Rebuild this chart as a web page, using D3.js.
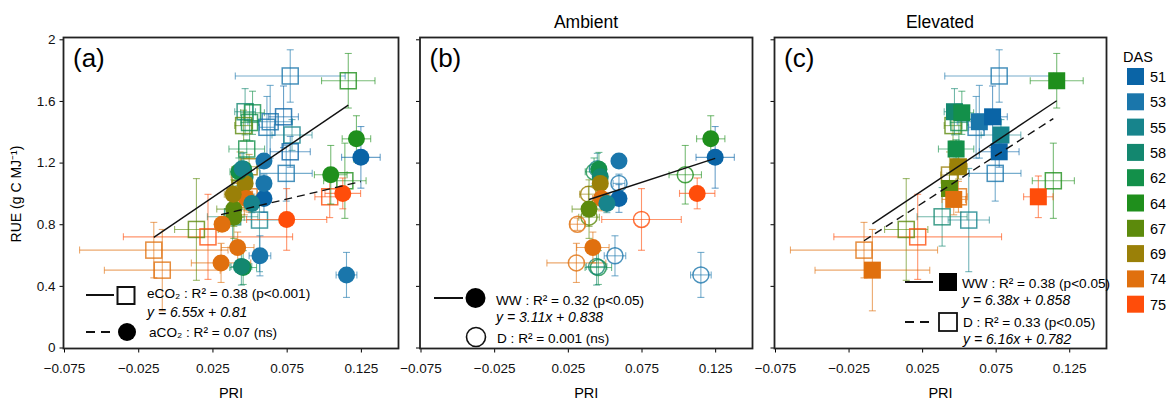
<!DOCTYPE html>
<html>
<head>
<meta charset="utf-8">
<script src="https://cdn.jsdelivr.net/npm/d3@7"></script>
<style>
  body { margin: 0; background: #fff; }
  svg { display: block; font-family: "Liberation Sans", Arial, sans-serif; }
</style>
</head>
<body>
<div id="chart"></div>
<script>
// DAS levels and colours
const dasLevels = [51, 53, 55, 58, 62, 64, 67, 69, 74, 75];
const dasColors = ["#0a64a6", "#1a76ab", "#17848c", "#13876f", "#13904a", "#1f8f1c", "#5c8a0c", "#9a8008", "#e0700e", "#ff4d0a"];

const xTicks = [-0.075, -0.025, 0.025, 0.075, 0.125];
const yTicks = [0, 0.4, 0.8, 1.2, 1.6, 2];

// [DAS, PRI, RUE, PRI error, RUE error]
const ambientWW = [
  [64, 0.122, 1.354, 0.0096, 0.15],
  [51, 0.125, 1.234, 0.013, 0.20],
  [75, 0.1128, 1.0, 0.012, 0.10],
  [53, 0.0597, 1.21, 0.003, 0.04],
  [62, 0.0461, 1.156, 0.004, 0.11],
  [58, 0.047, 1.108, 0.005, 0.08],
  [69, 0.047, 1.065, 0.005, 0.07],
  [51, 0.0597, 0.967, 0.003, 0.09],
  [74, 0.0478, 0.967, 0.006, 0.08],
  [55, 0.0515, 0.935, 0.004, 0.06],
  [67, 0.0394, 0.898, 0.0115, 0.19],
  [74, 0.042, 0.649, 0.011, 0.10]
];
const ambientD = [
  [64, 0.1047, 1.121, 0.011, 0.19],
  [75, 0.075, 0.831, 0.027, 0.20],
  [53, 0.1153, 0.471, 0.007, 0.146],
  [53, 0.0597, 1.065, 0.004, 0.06],
  [69, 0.039, 0.995, 0.006, 0.05],
  [67, 0.0394, 0.846, 0.007, 0.06],
  [74, 0.0315, 0.80, 0.005, 0.04],
  [74, 0.0308, 0.549, 0.02, 0.127],
  [62, 0.0457, 0.519, 0.009, 0.11],
  [58, 0.0445, 0.525, 0.007, 0.12],
  [53, 0.057, 0.595, 0.0073, 0.13],
  [62, 0.0428, 1.14, 0.006, 0.09],
  [55, 0.045, 1.16, 0.005, 0.10]
];
const elevatedWW = [
  [64, 0.1165, 1.731, 0.018, 0.177],
  [58, 0.047, 1.53, 0.007, 0.15],
  [62, 0.052, 1.523, 0.008, 0.14],
  [53, 0.0639, 1.465, 0.015, 0.236],
  [51, 0.0729, 1.497, 0.01, 0.20],
  [55, 0.0786, 1.379, 0.0135, 0.10],
  [51, 0.0774, 1.27, 0.0135, 0.10],
  [62, 0.0481, 1.288, 0.012, 0.06],
  [69, 0.0497, 1.173, 0.006, 0.08],
  [67, 0.0436, 1.032, 0.005, 0.10],
  [74, 0.0465, 0.961, 0.008, 0.10],
  [75, 0.104, 0.978, 0.01, 0.135],
  [74, -0.0088, 0.502, 0.039, 0.264]
];
const elevatedD = [
  [53, 0.0774, 1.762, 0.037, 0.17],
  [64, 0.1142, 1.082, 0.0143, 0.244],
  [53, 0.0617, 1.429, 0.005, 0.20],
  [67, 0.046, 1.44, 0.006, 0.10],
  [62, 0.050, 1.46, 0.006, 0.12],
  [53, 0.0747, 1.13, 0.0175, 0.18],
  [69, 0.0436, 1.119, 0.006, 0.15],
  [74, 0.0497, 0.978, 0.006, 0.10],
  [58, 0.0386, 0.848, 0.017, 0.19],
  [55, 0.0567, 0.827, 0.014, 0.335],
  [67, 0.0142, 0.766, 0.0147, 0.33],
  [75, 0.022, 0.718, 0.057, 0.276],
  [74, -0.0145, 0.632, 0.05, 0.18]
];

// fitted lines [slope, intercept]
const fitECO2 = [6.55, 0.81];
const fitACO2 = [2.28, 0.792];
const fitAmbWW = [3.11, 0.838];
const fitElevWW = [6.38, 0.858];
const fitElevD = [6.16, 0.782];

const svg = d3.select("#chart").append("svg")
  .attr("width", 1171)
  .attr("height", 403);

const color = d3.scaleOrdinal().domain(dasLevels).range(dasColors);
const frameTop = 37.5, frameBottom = 348.5;
const y = d3.scaleLinear().domain([0, 2]).range([347.5, 39.3]);

function makePanel(x0, x1, letter, showYLabels) {
  const x = d3.scaleLinear().domain([-0.075, 0.15]).range([x0, x1]);
  const g = svg.append("g");

  g.append("g")
    .attr("transform", `translate(0,${frameBottom})`)
    .call(d3.axisBottom(x).tickValues(xTicks).tickSize(4).tickPadding(11).tickFormat(d3.format(".3f")))
    .call(a => a.select(".domain").remove())
    .call(a => a.selectAll("text").attr("font-size", 13.5).attr("fill", "#111").attr("font-family", null));

  g.append("g")
    .attr("transform", `translate(${x0 - 0.5},0)`)
    .call(d3.axisLeft(y).tickValues(yTicks).tickSize(4).tickPadding(4)
      .tickFormat(d => showYLabels ? String(d) : ""))
    .call(a => a.select(".domain").remove())
    .call(a => a.selectAll("text").attr("font-size", 13.5).attr("fill", "#111").attr("font-family", null));

  g.append("rect")
    .attr("x", x0 - 0.5).attr("y", frameTop)
    .attr("width", x1 - x0 + 1).attr("height", frameBottom - frameTop)
    .attr("fill", "none").attr("stroke", "#222").attr("stroke-width", 1.8);

  g.append("text")
    .attr("x", x0 + 9).attr("y", 66.5)
    .attr("font-size", 26)
    .text(letter);

  g.append("text")
    .attr("x", (x0 + x1) / 2).attr("y", 398)
    .attr("text-anchor", "middle")
    .attr("font-size", 14.5)
    .text("PRI");

  return { g, x };
}

function errorBars(p, data) {
  const cap = 3.5;
  const eb = p.g.append("g")
    .attr("stroke-width", 1.1)
    .attr("stroke-opacity", 0.6)
    .selectAll("g").data(data).join("g")
    .attr("stroke", d => color(d[0]));
  eb.append("line")
    .attr("x1", d => p.x(d[1] - d[3])).attr("x2", d => p.x(d[1] + d[3]))
    .attr("y1", d => y(d[2])).attr("y2", d => y(d[2]));
  eb.append("line")
    .attr("x1", d => p.x(d[1])).attr("x2", d => p.x(d[1]))
    .attr("y1", d => y(d[2] - d[4])).attr("y2", d => y(d[2] + d[4]));
  [-1, 1].forEach(s => {
    eb.append("line")
      .attr("x1", d => p.x(d[1] + s * d[3])).attr("x2", d => p.x(d[1] + s * d[3]))
      .attr("y1", d => y(d[2]) - cap).attr("y2", d => y(d[2]) + cap);
    eb.append("line")
      .attr("x1", d => p.x(d[1]) - cap).attr("x2", d => p.x(d[1]) + cap)
      .attr("y1", d => y(d[2] + s * d[4])).attr("y2", d => y(d[2] + s * d[4]));
  });
}

function markers(p, data, shape, filled) {
  const sel = p.g.append("g").selectAll("*").data(data).join(shape === "circle" ? "circle" : "rect");
  if (shape === "circle") {
    sel.attr("cx", d => p.x(d[1])).attr("cy", d => y(d[2])).attr("r", filled ? 8.5 : 8);
  } else {
    const s = filled ? 17 : 16;
    sel.attr("x", d => p.x(d[1]) - s / 2).attr("y", d => y(d[2]) - s / 2).attr("width", s).attr("height", s);
  }
  if (filled) {
    sel.attr("fill", d => color(d[0]));
  } else {
    sel.attr("fill", "none").attr("stroke", d => color(d[0]))
      .attr("stroke-width", 1.5).attr("stroke-opacity", 0.8);
  }
}

function fitLine(p, fit, data, dash) {
  const ext = d3.extent(data, d => d[1]);
  p.g.append("line")
    .attr("x1", p.x(ext[0])).attr("y1", y(fit[0] * ext[0] + fit[1]))
    .attr("x2", p.x(ext[1])).attr("y2", y(fit[0] * ext[1] + fit[1]))
    .attr("stroke", "#111").attr("stroke-width", 1.4)
    .attr("stroke-dasharray", dash ? "8,5" : null);
}

function legendText(p, xp, yp, txt, italic) {
  p.g.append("text").attr("x", xp).attr("y", yp)
    .attr("font-size", italic ? 14 : 13.6)
    .attr("font-style", italic ? "italic" : null)
    .text(txt);
}

// y axis title
svg.append("text")
  .attr("transform", "translate(21,194) rotate(-90)")
  .attr("text-anchor", "middle")
  .attr("font-size", 14)
  .text("RUE (g C MJ\u207B\u00B9)");

// panel titles
svg.append("text").attr("x", 586).attr("y", 28).attr("text-anchor", "middle").attr("font-size", 17.5).text("Ambient");
svg.append("text").attr("x", 940).attr("y", 28).attr("text-anchor", "middle").attr("font-size", 17.5).text("Elevated");

// (a) all points: eCO2 squares, aCO2 circles
const pa = makePanel(64, 398, "(a)", true);
const elevatedAll = elevatedWW.concat(elevatedD);
const ambientAll = ambientWW.concat(ambientD);
errorBars(pa, elevatedAll);
markers(pa, elevatedAll, "square", false);
errorBars(pa, ambientAll);
markers(pa, ambientAll, "circle", true);
fitLine(pa, fitECO2, elevatedAll, false);
fitLine(pa, fitACO2, ambientAll, true);

pa.g.append("line").attr("x1", 86).attr("x2", 114).attr("y1", 295).attr("y2", 295).attr("stroke", "#111").attr("stroke-width", 2);
pa.g.append("rect").attr("x", 117.5).attr("y", 287).attr("width", 17).attr("height", 17).attr("fill", "none").attr("stroke", "#111").attr("stroke-width", 2);
legendText(pa, 147, 298, "eCO\u2082 : R\u00B2 = 0.38 (p<0.001)");
legendText(pa, 147, 317, "y = 6.55x + 0.81", true);
pa.g.append("line").attr("x1", 86).attr("x2", 116).attr("y1", 332).attr("y2", 332).attr("stroke", "#111").attr("stroke-width", 2).attr("stroke-dasharray", "9,6");
pa.g.append("circle").attr("cx", 127).attr("cy", 332).attr("r", 9).attr("fill", "#000");
legendText(pa, 149, 337, "aCO\u2082 : R\u00B2 = 0.07 (ns)");

// (b) ambient: WW filled, D open circles
const pb = makePanel(420.5, 752, "(b)", false);
errorBars(pb, ambientD);
markers(pb, ambientD, "circle", false);
errorBars(pb, ambientWW);
markers(pb, ambientWW, "circle", true);
fitLine(pb, fitAmbWW, ambientWW, false);

pb.g.append("line").attr("x1", 434).attr("x2", 463).attr("y1", 298).attr("y2", 298).attr("stroke", "#111").attr("stroke-width", 2);
pb.g.append("circle").attr("cx", 475.5).attr("cy", 298).attr("r", 10).attr("fill", "#000");
legendText(pb, 496, 305, "WW : R\u00B2 = 0.32 (p<0.05)");
legendText(pb, 496, 322, "y = 3.11x + 0.838", true);
pb.g.append("circle").attr("cx", 476).attr("cy", 337).attr("r", 9.5).attr("fill", "none").attr("stroke", "#111").attr("stroke-width", 1.6);
legendText(pb, 497, 343, "D : R\u00B2 = 0.001 (ns)");

// (c) elevated: WW filled, D open squares
const pc = makePanel(775, 1106, "(c)", false);
errorBars(pc, elevatedD);
markers(pc, elevatedD, "square", false);
errorBars(pc, elevatedWW);
markers(pc, elevatedWW, "square", true);
fitLine(pc, fitElevWW, elevatedWW, false);
fitLine(pc, fitElevD, elevatedD, true);

pc.g.append("line").attr("x1", 905).attr("x2", 933).attr("y1", 282).attr("y2", 282).attr("stroke", "#111").attr("stroke-width", 2);
pc.g.append("rect").attr("x", 939).attr("y", 273).attr("width", 18).attr("height", 18).attr("fill", "#000");
legendText(pc, 962, 288, "WW : R\u00B2 = 0.38 (p<0.05)");
legendText(pc, 962, 305, "y = 6.38x + 0.858", true);
pc.g.append("line").attr("x1", 905).attr("x2", 933).attr("y1", 322).attr("y2", 322).attr("stroke", "#111").attr("stroke-width", 2).attr("stroke-dasharray", "9,6");
pc.g.append("rect").attr("x", 939).attr("y", 313).attr("width", 18).attr("height", 18).attr("fill", "none").attr("stroke", "#111").attr("stroke-width", 1.8);
legendText(pc, 963, 327, "D : R\u00B2 = 0.33 (p<0.05)");
legendText(pc, 963, 344, "y = 6.16x + 0.782", true);

// DAS legend
const leg = svg.append("g").attr("transform", "translate(1127,68)");
leg.append("text").attr("x", -4).attr("y", -6).attr("font-size", 14.5).text("DAS");
const items = leg.selectAll("g").data(dasLevels).join("g")
  .attr("transform", (d, i) => `translate(0,${i * 25.3})`);
items.append("rect").attr("width", 17).attr("height", 17).attr("fill", d => color(d));
items.append("text").attr("x", 23).attr("y", 14).attr("font-size", 14.5).text(d => d);
</script>
</body>
</html>
